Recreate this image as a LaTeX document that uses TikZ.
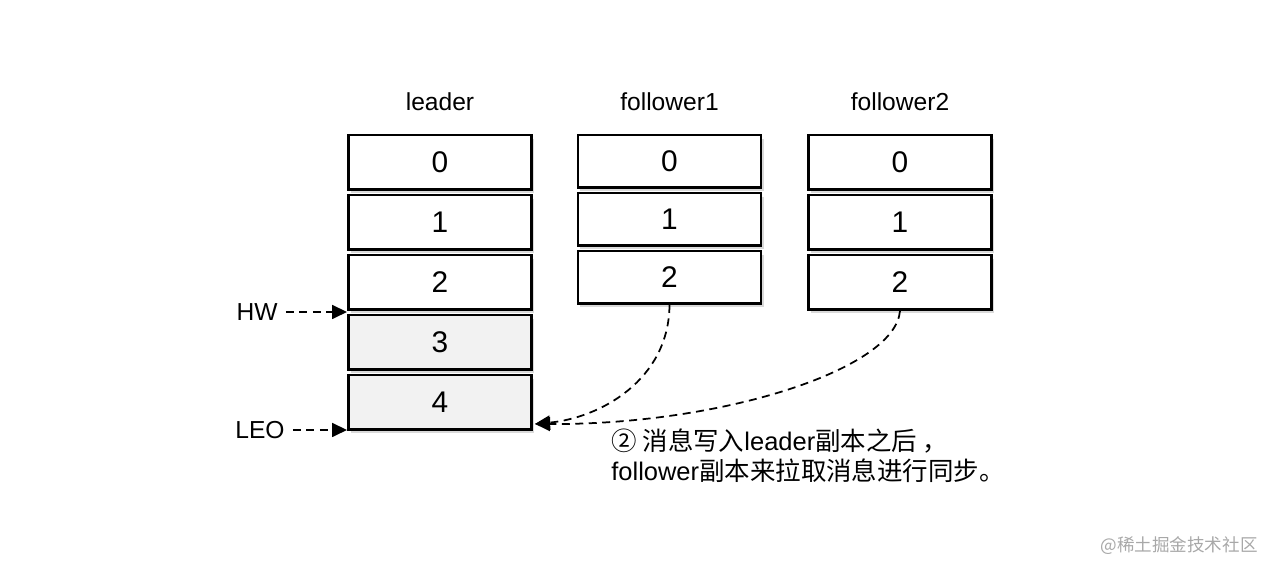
\documentclass[tikz,border=0pt]{standalone}
\usepackage{fontspec}
\setmainfont{Liberation Sans}
\newfontfamily\cjk{Noto Sans CJK SC}
\usepackage{xcolor}
\definecolor{cellgray}{HTML}{F2F2F2}
\definecolor{markgray}{HTML}{A8A8A8}
\usepackage{tikz}
\usetikzlibrary{positioning,arrows.meta,shadows}
\tikzset{
  cell/.style ={rectangle, draw=black, line width=0.05cm, fill=white,
                minimum width=3.67cm, minimum height=1.09cm, inner sep=0pt,
                font=\fontsize{17}{20}\selectfont,
                drop shadow={shadow xshift=0.5mm, shadow yshift=-0.7mm, opacity=0.3}},
  cellg/.style={cell, fill=cellgray},
  cellf/.style={cell, minimum height=1.05cm},
  ttl/.style  ={font=\fontsize{14}{17}\selectfont, inner sep=0pt},
  lbl/.style  ={font=\fontsize{14}{17}\selectfont, inner sep=0.16cm},
  ptr/.style  ={-{Triangle[length=3mm, width=2.8mm]}, line width=0.035cm,
                dash pattern=on 1.6mm off 1.1mm},
  note/.style ={font=\fontsize{14.5}{17}\selectfont, align=left, inner sep=0pt},
  wmark/.style={font=\fontsize{10}{12}\selectfont\cjk, text=markgray, inner sep=0pt},
}
\newcommand{\zh}[1]{{\cjk #1}}

\begin{document}
\begin{tikzpicture}[x=0.02cm, y=0.02cm]
  \useasboundingbox (0,0) rectangle (1276,574);
  % leader
  \node[cell]  (l0) at (440,411.5) {0};
  \node[cell,  below=0.6mm of l0] (l1) {1};
  \node[cell,  below=0.6mm of l1] (l2) {2};
  \node[cellg, below=0.6mm of l2] (l3) {3};
  \node[cellg, below=0.6mm of l3] (l4) {4};
  % follower1
  \node[cellf] (a0) at (669.5,412.5) {0};
  \node[cellf, below=0.6mm of a0] (a1) {1};
  \node[cellf, below=0.6mm of a1] (a2) {2};
  % follower2
  \node[cell] (b0) at (900,411.5) {0};
  \node[cell, below=0.6mm of b0] (b1) {1};
  \node[cell, below=0.6mm of b1] (b2) {2};
  % titles
  \node[ttl, above=4.6mm of l0] (tl) {leader};
  \node[ttl, above=4.6mm of a0] (ta) {follower1};
  \node[ttl, above=4.6mm of b0] (tb) {follower2};
  % HW / LEO
  \node[lbl] (hw)  at (257,262) {HW};
  \node[lbl] (leo) at (260,144) {LEO};
  \draw[ptr] (hw.east)  -- (hw.east -| l2.south west);
  \draw[ptr] (leo.east) -- (leo.east -| l4.south west);
  % fetch
  \coordinate (tip) at ([xshift=0.04cm, yshift=0.14cm]l4.south east);
  \draw[ptr] (a2.south) .. controls (669,194) and (600,156) .. (tip);
  \draw[ptr] (b2.south) .. controls (895,204) and (720,149) .. (tip);
  \node[note, anchor=north west] (cap) at (611,145)
    {\zh{② 消息写入}leader\zh{副本之后 ，}\\follower\zh{副本来拉取消息进行同步。}};
  \node[wmark, anchor=east] (wm) at (1258,28) {@稀土掘金技术社区};
\end{tikzpicture}
\end{document}
